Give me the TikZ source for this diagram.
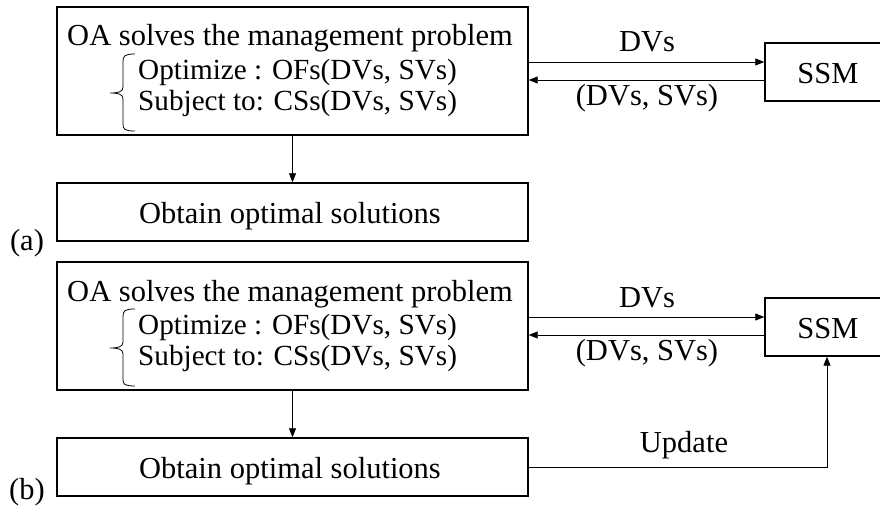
\documentclass[tikz,border=0pt]{standalone}
\usepackage{fontspec}
\setmainfont{Liberation Serif}
\usetikzlibrary{arrows.meta}
\begin{document}
\begin{tikzpicture}[x=1pt,y=-1pt,
  box/.style={draw,line width=1.4pt,inner sep=0pt,rectangle},
  txt/.style={inner sep=0pt,font=\fontsize{30.5}{32}\selectfont},
  subtxt/.style={inner sep=0pt,font=\fontsize{29.2}{32}\selectfont},
  arr/.style={line width=0.8pt,-{Triangle[length=9pt,width=7pt]}},
  brace/.style={line width=0.8pt}]
\useasboundingbox (0,0) rectangle (880,511);
% ---------- panel (a)
\node[box,minimum width=471pt,minimum height=128pt] (topA) at (292.5,71) {};
\node[txt,anchor=base] (titA) at (290,46) {OA solves the management problem};
\node[subtxt,anchor=base west] (optA) at (138,79) {Optimize : OFs(DVs, SVs)};
\node[subtxt,anchor=base west] (subA) at (138,110) {Subject to: CSs(DVs, SVs)};
\draw[brace] (135,54) .. controls (124,54) and (123,56) .. (123,62) -- (123,87) .. controls (123,92) and (118,93) .. (110,93)
  .. controls (118,93) and (123,94) .. (123,99) -- (123,124) .. controls (123,129) and (124,131) .. (135,131);
\node[box,minimum width=471pt,minimum height=58pt] (botA) at (292.5,212) {};
\node[txt,anchor=base] (solA) at (290,223) {Obtain optimal solutions};
\node[txt,anchor=base] (labA) at (27,250) {(a)};
\node[box,minimum width=140pt,minimum height=58pt] (ssmA) at (835,72) {};
\node[txt,anchor=base] (ssmtA) at (828,83) {SSM};
\coordinate (dvA) at ([yshift=10pt]ssmA.west);
\coordinate (svA) at ([yshift=-8pt]ssmA.west);
\draw[arr] (topA.east |- dvA) -- (dvA);
\draw[arr] (svA) -- (topA.east |- svA);
\node[txt,anchor=base] (ldvA) at (647,52) {DVs};
\node[txt,anchor=base] (lsvA) at (647,105) {(DVs, SVs)};
\draw[arr] (topA.south) -- (botA.north);
% ---------- panel (b)
\node[box,minimum width=471pt,minimum height=128pt] (topB) at (292.5,326) {};
\node[txt,anchor=base] (titB) at (290,301) {OA solves the management problem};
\node[subtxt,anchor=base west] (optB) at (138,334) {Optimize : OFs(DVs, SVs)};
\node[subtxt,anchor=base west] (subB) at (138,365) {Subject to: CSs(DVs, SVs)};
\draw[brace] (135,309) .. controls (124,309) and (123,311) .. (123,317) -- (123,342) .. controls (123,347) and (118,348) .. (110,348)
  .. controls (118,348) and (123,349) .. (123,354) -- (123,379) .. controls (123,384) and (124,386) .. (135,386);
\node[box,minimum width=471pt,minimum height=58pt] (botB) at (292.5,467) {};
\node[txt,anchor=base] (solB) at (290,478) {Obtain optimal solutions};
\node[txt,anchor=base] (labB) at (27,499) {(b)};
\node[box,minimum width=140pt,minimum height=58pt] (ssmB) at (835,327) {};
\node[txt,anchor=base] (ssmtB) at (828,338) {SSM};
\coordinate (dvB) at ([yshift=10pt]ssmB.west);
\coordinate (svB) at ([yshift=-8pt]ssmB.west);
\draw[arr] (topB.east |- dvB) -- (dvB);
\draw[arr] (svB) -- (topB.east |- svB);
\node[txt,anchor=base] (ldvB) at (647,307) {DVs};
\node[txt,anchor=base] (lsvB) at (647,360) {(DVs, SVs)};
\draw[arr] (topB.south) -- (botB.north);
\coordinate (upB) at ([xshift=-8pt]ssmB.south);
\draw[arr] (botB.east) -| (upB);
\node[txt,anchor=base] (lupB) at (684,452) {Update};
\end{tikzpicture}
\end{document}
